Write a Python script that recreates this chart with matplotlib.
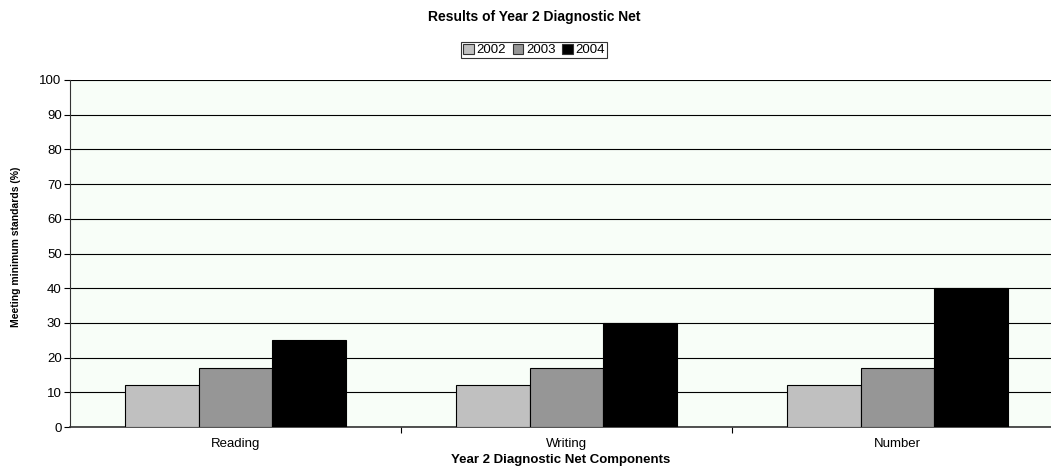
import matplotlib.pyplot as plt
import numpy as np

plt.rcParams['font.family'] = ['Liberation Sans', 'DejaVu Sans']

# Datos por componente y año
componentes = ['Reading', 'Writing', 'Number']
anios = ['2002', '2003', '2004']
v2002 = [12, 12, 12]
v2003 = [17, 17, 17]
v2004 = [25, 30, 40]
colores = ['#C0C0C0', '#969696', '#000000']

fig = plt.figure(figsize=(10.51, 4.68), dpi=100)
ax = fig.add_axes([70/1051, 1-427/468, 1-70/1051, (427-80)/468])
ax.set_facecolor('#F8FEF8')

x = np.arange(len(componentes))
w = 0.222
for i, (vals, lab) in enumerate(zip([v2002, v2003, v2004], anios)):
    ax.bar(x + (i-1)*w, vals, w, color=colores[i], edgecolor='black',
           linewidth=0.8, label=lab, zorder=3)

ax.set_ylim(0, 100)
ax.set_yticks(range(0, 101, 10))
ax.set_xlim(-0.5, 2.5 - 12/331)
ax.set_xticks(x)
ax.set_xticklabels(componentes, fontsize=9.5)
ax.set_xticks([0.5, 1.5], minor=True)
ax.tick_params(axis='x', which='major', length=0, pad=8)
ax.tick_params(axis='x', which='minor', length=4, direction='out', width=0.8)
ax.tick_params(axis='y', labelsize=9.5, length=4, width=0.8, pad=2)
ax.yaxis.grid(True, color='black', linewidth=0.8, zorder=0)
ax.set_axisbelow(True)
for s in ['top', 'right']:
    ax.spines[s].set_visible(False)
ax.spines['left'].set_color('#333333')
ax.spines['bottom'].set_color('#333333')
ax.spines['bottom'].set_linewidth(1.2)

ax.set_xlabel('Year 2 Diagnostic Net Components', fontsize=9.5,
              fontweight='bold', labelpad=3)
ax.set_ylabel('Meeting minimum standards (%)', fontsize=7.5,
              fontweight='bold')
ax.yaxis.set_label_coords(-0.050, 0.52)

fig.text(534/1051, 1-17/468, 'Results of Year 2 Diagnostic Net',
         ha='center', va='center', fontsize=10, fontweight='bold')
leg = fig.legend(loc='center', bbox_to_anchor=(534/1051, 1-50/468), ncol=3,
                 fontsize=9.5, frameon=True, fancybox=False, edgecolor='black',
                 handlelength=0.8, handleheight=0.8, handletextpad=0.2,
                 columnspacing=0.5, borderpad=0.15, borderaxespad=0)
leg.get_frame().set_linewidth(0.8)
for h in leg.legend_handles:
    h.set_edgecolor('#333333')

plt.savefig('out.png', dpi=100)
